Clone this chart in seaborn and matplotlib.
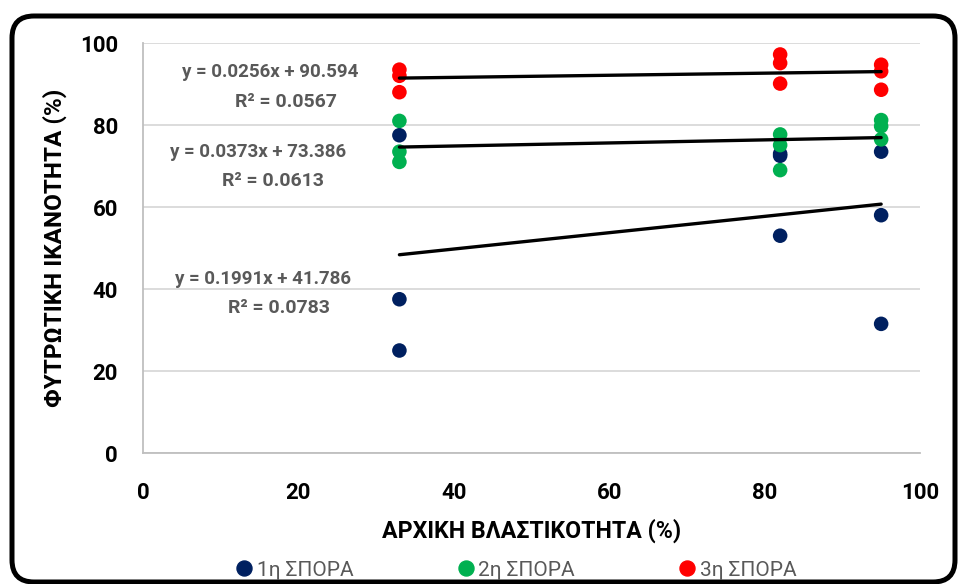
import matplotlib
matplotlib.use("Agg")
import matplotlib.pyplot as plt
from matplotlib.patches import FancyBboxPatch
from matplotlib.transforms import IdentityTransform
from matplotlib.lines import Line2D
import seaborn as sns
import pandas as pd

# Initial germination (%) per sowing and resulting field emergence (%)
germination = [33, 33, 33, 82, 82, 82, 95, 95, 95]
sowing_1 = [77.5, 37.5, 25.0, 73.0, 72.5, 53.0, 73.5, 58.0, 31.5]
sowing_2 = [81.0, 73.5, 71.0, 77.7, 75.1, 69.0, 81.2, 79.7, 76.5]
sowing_3 = [93.5, 92.0, 88.0, 97.2, 95.1, 90.1, 94.7, 93.1, 88.6]
series_names = ["1η ΣΠΟΡΑ", "2η ΣΠΟΡΑ", "3η ΣΠΟΡΑ"]
colors = ["#002060", "#00B050", "#FF0000"]

# Linear trend lines (slope, intercept, R²) per sowing
slopes = [0.1991, 0.0373, 0.0256]
intercepts = [41.786, 73.386, 90.594]
r_squared = ["0.0783", "0.0613", "0.0567"]

x_ticks = [0, 20, 40, 60, 80, 100]
y_ticks = [0, 20, 40, 60, 80, 100]

df = pd.DataFrame({
    "x": germination * 3,
    "y": sowing_1 + sowing_2 + sowing_3,
    "series": [series_names[0]] * 9 + [series_names[1]] * 9 + [series_names[2]] * 9,
})

sns.set_theme(style="white")
plt.rcParams["font.family"] = ["Roboto", "DejaVu Sans"]

fig = plt.figure(figsize=(9.58, 5.84), dpi=100)
ax = fig.add_axes([143 / 958, 131 / 584, 777 / 958, 410 / 584])

ax.grid(True, axis="y", color="#D9D9D9", linewidth=1.3)
ax.set_axisbelow(True)

sns.scatterplot(data=df, x="x", y="y", hue="series", palette=colors,
                s=110, edgecolor="none", linewidth=0, legend=False, ax=ax, zorder=3)

# Trend lines drawn from their stated equations over the data range
x_min, x_max = min(germination), max(germination)
for m, b in zip(slopes, intercepts):
    line_df = pd.DataFrame({"x": [x_min, x_max], "y": [m * x_min + b, m * x_max + b]})
    sns.lineplot(data=line_df, x="x", y="y", color="black", linewidth=2.4, ax=ax, zorder=4)

# Equation / R² annotations
eq_pos = [((15.5, 41.1), (17.5, 34.2)),
          ((14.8, 72.1), (16.7, 65.1)),
          ((16.4, 91.6), (18.4, 84.5))]
for (p1, p2), m, b, r2 in zip(eq_pos, slopes, intercepts, r_squared):
    ax.text(p1[0], p1[1], f"y = {m}x + {b}", ha="center", va="baseline",
            fontsize=13.5, fontweight="bold", color="#595959", zorder=5)
    ax.text(p2[0], p2[1], f"R² = {r2}", ha="center", va="baseline",
            fontsize=14, fontweight="bold", color="#595959", zorder=5)

ax.set_xlim(0, 100)
ax.set_ylim(0, 100)
ax.set_xticks(x_ticks)
ax.set_yticks(y_ticks)
ax.set_xticklabels([str(t) for t in x_ticks], fontsize=16, fontweight="bold", color="black")
ax.set_yticklabels([str(t) for t in y_ticks], fontsize=16, fontweight="bold", color="black")
ax.tick_params(axis="x", length=0, pad=21)
ax.tick_params(axis="y", length=0, pad=18)

for side in ["top", "right"]:
    ax.spines[side].set_visible(False)
for side in ["left", "bottom"]:
    ax.spines[side].set_color("#BFBFBF")
    ax.spines[side].set_linewidth(1.3)

ax.set_xlabel("ΑΡΧΙΚΗ ΒΛΑΣΤΙΚΟΤΗΤΑ (%)", fontsize=16.7, fontweight="bold", color="black", labelpad=10)
ax.set_ylabel("ΦΥΤΡΩΤΙΚΗ ΙΚΑΝΟΤΗΤΑ (%)", fontsize=17.5, fontweight="bold", color="black")
ax.yaxis.label.set_verticalalignment("center")
ax.yaxis.set_label_coords(-88 / 777, 0.5)

handles = [Line2D([0], [0], marker="o", linestyle="none", markersize=10.8,
                  markerfacecolor=c, markeredgecolor=c) for c in colors]
fig.legend(handles, series_names, loc="center", bbox_to_anchor=(515 / 958, 14 / 584),
           ncol=3, frameon=False, fontsize=15, labelcolor="#595959",
           handletextpad=0.1, columnspacing=4.9, handlelength=1.0)

# Rounded outer frame
frame = FancyBboxPatch((12, 2), 943, 566, boxstyle="round,pad=0,rounding_size=22",
                       transform=IdentityTransform(), fill=False, edgecolor="black",
                       linewidth=3.6, clip_on=False)
fig.patches.append(frame)

fig.savefig("out.png", dpi=100)
